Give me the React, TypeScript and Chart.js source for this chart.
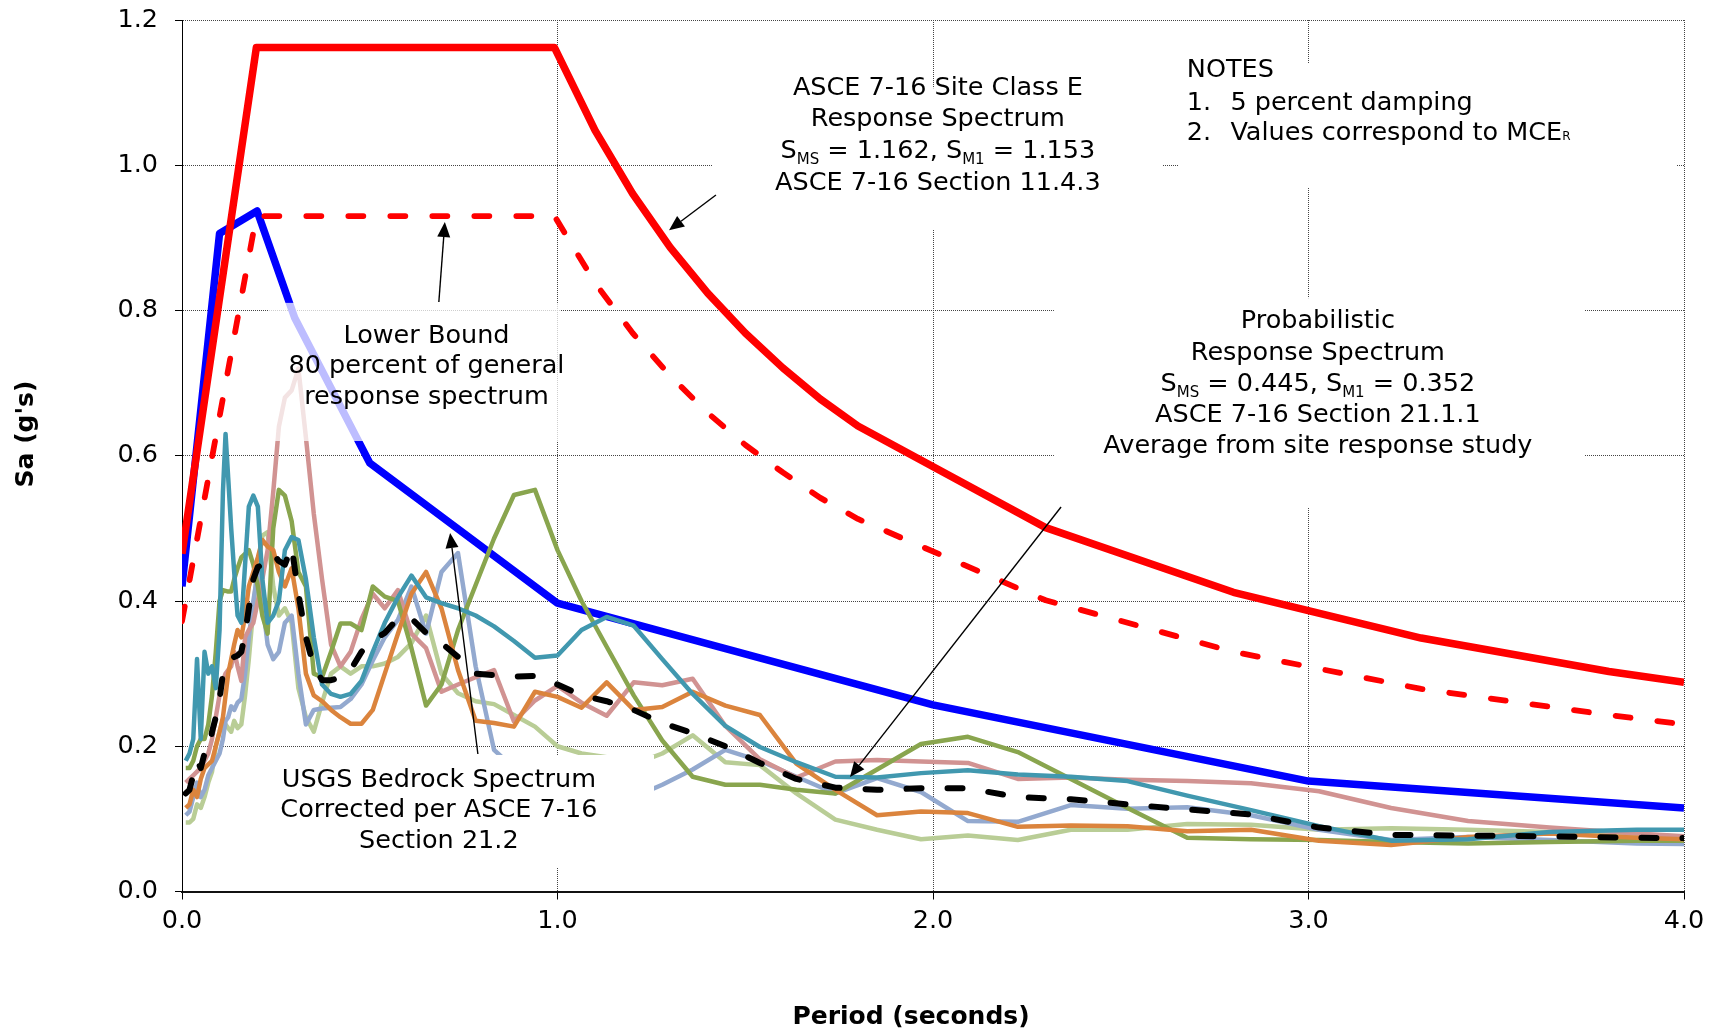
import { useEffect, useRef } from "react";
import { Chart, registerables } from "chart.js";

Chart.register(...registerables);

// ---- Site response ground motions (Sa in g) sampled at these periods (s) ----
const PERIODS = [
  0.01, 0.02, 0.03, 0.04, 0.05, 0.06, 0.07, 0.08, 0.09, 0.1,
  0.109, 0.116, 0.123, 0.131, 0.139, 0.148, 0.158, 0.168, 0.178, 0.19,
  0.202, 0.214, 0.228, 0.243, 0.258, 0.274, 0.292, 0.31, 0.33, 0.351,
  0.373, 0.397, 0.422, 0.449, 0.478, 0.508, 0.54, 0.575, 0.611, 0.65,
  0.691, 0.735, 0.782, 0.831, 0.884, 0.94,
  1.0, 1.064, 1.131, 1.203, 1.279, 1.36, 1.447, 1.539, 1.636, 1.74,
  1.851, 1.968, 2.093, 2.226, 2.367, 2.518, 2.677, 2.847, 3.028, 3.22,
  3.425, 3.642, 3.874, 4.12,
];

const MOTION_1 = [
  0.18, 0.19, 0.21, 0.32, 0.21, 0.33, 0.3, 0.31, 0.28, 0.36,
  0.55, 0.63, 0.57, 0.5, 0.44, 0.38, 0.37, 0.45, 0.53, 0.545,
  0.53, 0.43, 0.37, 0.38, 0.4, 0.47, 0.488, 0.484, 0.43, 0.35,
  0.285, 0.272, 0.268, 0.272, 0.29, 0.33, 0.37, 0.405, 0.435, 0.405,
  0.397, 0.39, 0.38, 0.365, 0.345, 0.322,
  0.325, 0.36, 0.378, 0.366, 0.32, 0.272, 0.228, 0.199, 0.178, 0.158,
  0.157, 0.163, 0.167, 0.161, 0.158, 0.152, 0.132, 0.112, 0.09, 0.07,
  0.072, 0.082, 0.085, 0.085,
];

const MOTION_2 = [
  0.115, 0.12, 0.14, 0.13, 0.155, 0.17, 0.175, 0.18, 0.2, 0.22,
  0.24, 0.27, 0.3, 0.32, 0.34, 0.36, 0.35, 0.38, 0.42, 0.44,
  0.46, 0.484, 0.475, 0.47, 0.44, 0.42, 0.445, 0.39, 0.3, 0.27,
  0.262, 0.25, 0.24, 0.231, 0.231, 0.25, 0.3, 0.355, 0.41, 0.44,
  0.39, 0.305, 0.235, 0.232, 0.227, 0.275,
  0.268, 0.253, 0.288, 0.25, 0.254, 0.275, 0.256, 0.243, 0.176, 0.14,
  0.105, 0.11, 0.108, 0.089, 0.091, 0.09, 0.083, 0.085, 0.07, 0.064,
  0.075, 0.08, 0.074, 0.07,
];

const MOTION_3 = [
  0.17, 0.17, 0.18, 0.2, 0.21, 0.21, 0.23, 0.27, 0.33, 0.4,
  0.415, 0.414, 0.413, 0.413, 0.43, 0.445, 0.46, 0.465, 0.47, 0.45,
  0.42, 0.38, 0.355, 0.5, 0.553, 0.545, 0.51, 0.44, 0.42, 0.3,
  0.295, 0.33, 0.369, 0.369, 0.36, 0.42, 0.406, 0.4, 0.335, 0.256,
  0.285, 0.36, 0.422, 0.486, 0.546, 0.553,
  0.47, 0.4, 0.337, 0.27, 0.208, 0.158, 0.147, 0.147, 0.14, 0.135,
  0.168, 0.203, 0.213, 0.192, 0.155, 0.115, 0.074, 0.072, 0.071, 0.068,
  0.066, 0.068, 0.07, 0.07,
];

const MOTION_4 = [
  0.15, 0.155, 0.16, 0.165, 0.17, 0.18, 0.19, 0.21, 0.24, 0.27,
  0.29, 0.3, 0.305, 0.31, 0.33, 0.31, 0.29, 0.35, 0.36, 0.37,
  0.4, 0.43, 0.47, 0.55, 0.64, 0.68, 0.69, 0.72, 0.625, 0.52,
  0.43, 0.34, 0.31, 0.33, 0.375, 0.41, 0.39, 0.415, 0.355, 0.335,
  0.275, 0.285, 0.295, 0.305, 0.234, 0.263,
  0.283, 0.26, 0.242, 0.288, 0.284, 0.293, 0.228, 0.182, 0.157, 0.179,
  0.181, 0.179, 0.177, 0.155, 0.157, 0.154, 0.152, 0.149, 0.138, 0.115,
  0.097, 0.088, 0.08, 0.072,
];

const MOTION_5 = [
  0.105, 0.11, 0.13, 0.15, 0.13, 0.14, 0.16, 0.17, 0.18, 0.19,
  0.21, 0.235, 0.24, 0.255, 0.25, 0.26, 0.265, 0.3, 0.35, 0.4,
  0.44, 0.4, 0.34, 0.32, 0.33, 0.37, 0.38, 0.3, 0.23, 0.25,
  0.252, 0.253, 0.254, 0.265, 0.285, 0.318, 0.35, 0.374, 0.42, 0.355,
  0.44, 0.466, 0.31, 0.195, 0.17, 0.16,
  0.15, 0.14, 0.135, 0.13, 0.147, 0.168, 0.195, 0.18, 0.158, 0.135,
  0.156, 0.137, 0.097, 0.096, 0.119, 0.114, 0.116, 0.105, 0.085, 0.071,
  0.075, 0.071, 0.066, 0.065,
];

const MOTION_6 = [
  0.095, 0.095, 0.1, 0.12, 0.115, 0.13, 0.15, 0.165, 0.2, 0.22,
  0.235, 0.23, 0.225, 0.22, 0.235, 0.225, 0.23, 0.27, 0.32, 0.39,
  0.45, 0.49, 0.495, 0.42, 0.38, 0.39, 0.37, 0.28, 0.24, 0.22,
  0.26, 0.3, 0.31, 0.3, 0.31, 0.31, 0.314, 0.323, 0.342, 0.38,
  0.3, 0.273, 0.262, 0.258, 0.243, 0.227,
  0.2, 0.19, 0.185, 0.175, 0.19, 0.215, 0.178, 0.174, 0.135, 0.099,
  0.085, 0.072, 0.077, 0.071, 0.085, 0.085, 0.093, 0.092, 0.085, 0.087,
  0.085, 0.082, 0.077, 0.075,
];

const AVERAGE = [
  0.135, 0.14, 0.16, 0.18, 0.17, 0.19, 0.19, 0.22, 0.24, 0.265,
  0.3, 0.31, 0.315, 0.32, 0.323, 0.325, 0.33, 0.355, 0.39, 0.43,
  0.447, 0.45, 0.455, 0.465, 0.455, 0.45, 0.475, 0.41, 0.35, 0.31,
  0.291, 0.291, 0.295, 0.305, 0.33, 0.346, 0.356, 0.376, 0.376, 0.356,
  0.342, 0.323, 0.3, 0.298, 0.296, 0.297,
  0.285, 0.27, 0.262, 0.25, 0.232, 0.218, 0.2, 0.177, 0.155, 0.143,
  0.14, 0.142, 0.142, 0.13, 0.127, 0.12, 0.113, 0.106, 0.088, 0.078,
  0.077, 0.076, 0.074, 0.073,
];

// ---- ASCE 7-16 Site Class E (MCE_R) and 80 percent lower bound ----
const CODE_PERIODS = [0, 0.198, 0.992, 1.1, 1.2, 1.3, 1.4, 1.5, 1.6, 1.7, 1.8, 2.3, 2.8, 3.3, 3.8, 4.0];
const CODE_SA = [0.465, 1.162, 1.162, 1.048, 0.961, 0.887, 0.824, 0.769, 0.721, 0.678, 0.641, 0.501, 0.412, 0.349, 0.303, 0.288];
const LOWER_BOUND_SA = [0.372, 0.93, 0.93, 0.838, 0.769, 0.71, 0.659, 0.615, 0.577, 0.542, 0.513, 0.401, 0.33, 0.279, 0.243, 0.23];

// ---- Probabilistic response spectrum ----
const PROB_PERIODS = [0, 0.1, 0.2, 0.3, 0.5, 1.0, 2.0, 3.0, 4.0];
const PROB_SA = [0.42, 0.906, 0.937, 0.79, 0.59, 0.397, 0.257, 0.152, 0.115];

const X_TICKS = [0, 1, 2, 3, 4];
const Y_TICKS = [0, 0.2, 0.4, 0.6, 0.8, 1.0, 1.2];

const MOTION_COLORS = ["#4198AF", "#DB843D", "#89A54E", "#D19392", "#93A9CF", "#B9CD96"];

const FONT_FAMILY = '"DejaVu Sans", Verdana, sans-serif';
const TEXT_SIZE = 25.5;

type Seg = { t: string; sub?: boolean; tiny?: boolean };
type Line = Seg[];
type Block = { x: number; baselines: number[]; align: "center" | "left"; lines: Line[] };

const S = (t: string): Seg => ({ t });
const SUB = (t: string): Seg => ({ t, sub: true });

// white panels behind the notes (period range, Sa range, opacity)
const PANELS = [
  { t0: 1.414, t1: 2.612, v0: 1.106, v1: 0.911, alpha: 1 },
  { t0: 2.655, t1: 3.981, v0: 1.14, v1: 0.97, alpha: 1 },
  { t0: 2.322, t1: 3.734, v0: 0.817, v1: 0.529, alpha: 1 },
  { t0: 0.229, t1: 1.007, v0: 0.8105, v1: 0.6203, alpha: 0.74 },
  { t0: 0.109, t1: 1.257, v0: 0.188, v1: 0.0324, alpha: 1 },
];

const BLOCKS: Block[] = [
  {
    x: 2.013, align: "center", baselines: [1.0967, 1.0534, 1.01, 0.9662],
    lines: [
      [S("ASCE 7-16 Site Class E")],
      [S("Response Spectrum")],
      [S("S"), SUB("MS"), S(" = 1.162, S"), SUB("M1"), S(" = 1.153")],
      [S("ASCE 7-16 Section 11.4.3")],
    ],
  },
  {
    x: 2.676, align: "left", baselines: [1.1219],
    lines: [[S("NOTES")]],
  },
  {
    x: 2.676, align: "left", baselines: [1.0761, 1.0348],
    lines: [[S("1.")], [S("2.")]],
  },
  {
    x: 2.792, align: "left", baselines: [1.0761, 1.0348],
    lines: [[S("5 percent damping")], [S("Values correspond to MCE"), { t: "R", tiny: true }]],
  },
  {
    x: 3.025, align: "center", baselines: [0.7753, 0.7323, 0.6894, 0.6464, 0.6035],
    lines: [
      [S("Probabilistic")],
      [S("Response Spectrum")],
      [S("S"), SUB("MS"), S(" = 0.445, S"), SUB("M1"), S(" = 0.352")],
      [S("ASCE 7-16 Section 21.1.1")],
      [S("Average from site response study")],
    ],
  },
  {
    x: 0.651, align: "center", baselines: [0.7548, 0.7133, 0.6713],
    lines: [[S("Lower Bound")], [S("80 percent of general")], [S("response spectrum")]],
  },
  {
    x: 0.684, align: "center", baselines: [0.1443, 0.103, 0.0595],
    lines: [[S("USGS Bedrock Spectrum")], [S("Corrected per ASCE 7-16")], [S("Section 21.2")]],
  },
];

// leader arrows: tail (period, Sa) -> head (period, Sa)
const ARROWS = [
  { from: [1.422, 0.959], to: [1.297, 0.9105] },
  { from: [0.684, 0.8118], to: [0.7, 0.9219] },
  { from: [0.788, 0.1893], to: [0.714, 0.4936] },
  { from: [2.341, 0.5294], to: [1.779, 0.1577] },
];

const segFont = (s: Seg) =>
  s.sub ? `15px ${FONT_FAMILY}` : s.tiny ? `12px ${FONT_FAMILY}` : `${TEXT_SIZE}px ${FONT_FAMILY}`;

function drawLine(ctx: CanvasRenderingContext2D, segs: Line, x: number, y: number, align: "center" | "left") {
  const widths = segs.map((s) => {
    ctx.font = segFont(s);
    return ctx.measureText(s.t).width;
  });
  const total = widths.reduce((a, b) => a + b, 0);
  let cx = align === "center" ? x - total / 2 : x;
  ctx.textAlign = "left";
  ctx.textBaseline = "alphabetic";
  segs.forEach((s, i) => {
    ctx.font = segFont(s);
    ctx.fillText(s.t, cx, y + (s.sub ? 6 : 0));
    cx += widths[i];
  });
}

const notesPlugin = {
  id: "notes",
  afterDatasetsDraw(chart: any) {
    const { ctx } = chart;
    const xs = chart.scales.x;
    const ys = chart.scales.y;
    const px = (t: number) => xs.getPixelForValue(t);
    const py = (v: number) => ys.getPixelForValue(v);
    ctx.save();

    for (const p of PANELS) {
      ctx.fillStyle = `rgba(255,255,255,${p.alpha})`;
      const x0 = px(p.t0);
      const y0 = py(p.v0);
      ctx.fillRect(x0, y0, px(p.t1) - x0, py(p.v1) - y0);
    }

    ctx.fillStyle = "#000";
    for (const b of BLOCKS) {
      b.lines.forEach((line, i) => drawLine(ctx, line, px(b.x), py(b.baselines[i]), b.align));
    }

    ctx.strokeStyle = "#000";
    ctx.fillStyle = "#000";
    ctx.lineWidth = 1.4;
    for (const a of ARROWS) {
      const x1 = px(a.from[0]);
      const y1 = py(a.from[1]);
      const x2 = px(a.to[0]);
      const y2 = py(a.to[1]);
      const ang = Math.atan2(y2 - y1, x2 - x1);
      const len = 15;
      const half = 6.5;
      const bx = x2 - len * Math.cos(ang);
      const by = y2 - len * Math.sin(ang);
      ctx.beginPath();
      ctx.moveTo(x1, y1);
      ctx.lineTo(bx, by);
      ctx.stroke();
      ctx.beginPath();
      ctx.moveTo(x2, y2);
      ctx.lineTo(bx + half * Math.sin(ang), by - half * Math.cos(ang));
      ctx.lineTo(bx - half * Math.sin(ang), by + half * Math.cos(ang));
      ctx.closePath();
      ctx.fill();
    }
    ctx.restore();
  },
  afterDraw(chart: any) {
    const { ctx } = chart;
    ctx.save();
    ctx.fillStyle = "#000";
    ctx.font = `bold 25px ${FONT_FAMILY}`;
    ctx.textAlign = "center";
    ctx.textBaseline = "alphabetic";
    ctx.fillText("Period (seconds)", 911, 1024);
    ctx.translate(33, 434);
    ctx.rotate(-Math.PI / 2);
    ctx.fillText("Sa (g's)", 0, 0);
    ctx.restore();
  },
};

const toPoints = (xs: number[], ys: number[]) => xs.map((x, i) => ({ x, y: ys[i] }));

export default function App() {
  const canvasRef = useRef<HTMLCanvasElement | null>(null);

  useEffect(() => {
    const canvas = canvasRef.current;
    if (!canvas) return;

    const motions = [MOTION_1, MOTION_2, MOTION_3, MOTION_4, MOTION_5, MOTION_6];

    const datasets: any[] = [
      {
        label: "Average from site response study",
        data: toPoints(PERIODS, AVERAGE),
        borderColor: "#000",
        borderWidth: 6,
        borderDash: [15, 26],
        borderCapStyle: "round",
      },
      ...motions.map((vals, i) => ({
        label: `Motion ${i + 1}`,
        data: toPoints(PERIODS, vals),
        borderColor: MOTION_COLORS[i],
        borderWidth: 4.5,
      })),
      {
        label: "ASCE 7-16 Site Class E",
        data: toPoints(CODE_PERIODS, CODE_SA),
        borderColor: "#FF0000",
        borderWidth: 7.5,
      },
      {
        label: "Lower Bound",
        data: toPoints(CODE_PERIODS, LOWER_BOUND_SA),
        borderColor: "#FF0000",
        borderWidth: 5.8,
        borderDash: [15, 27],
        borderCapStyle: "round",
      },
      {
        label: "Probabilistic",
        data: toPoints(PROB_PERIODS, PROB_SA),
        borderColor: "#0000FF",
        borderWidth: 7.5,
      },
    ].map((d) => ({
      pointRadius: 0,
      pointHoverRadius: 0,
      fill: false,
      tension: 0,
      borderJoinStyle: "round",
      ...d,
    }));

    const chart = new Chart(canvas, {
      type: "line",
      data: { datasets },
      options: {
        animation: false,
        responsive: false,
        devicePixelRatio: 1,
        events: [],
        layout: { padding: { left: 0, top: 20, right: 31, bottom: 0 } },
        plugins: { legend: { display: false }, tooltip: { enabled: false }, title: { display: false } },
        scales: {
          x: {
            type: "linear",
            min: 0,
            max: 4,
            afterBuildTicks: (s: any) => {
              s.ticks = X_TICKS.map((v) => ({ value: v }));
            },
            afterFit: (s: any) => {
              s.height = 143.5;
              s.paddingLeft = 0;
              s.paddingRight = 0;
            },
            ticks: {
              autoSkip: false,
              maxRotation: 0,
              padding: 7,
              color: "#000",
              font: { family: FONT_FAMILY, size: TEXT_SIZE },
              callback: (v: any) => Number(v).toFixed(1),
            },
            grid: {
              color: "#444",
              lineWidth: 1,
              tickLength: 8,
              tickColor: "#000",
              tickWidth: 1,
              tickBorderDash: [],
            },
            border: { display: true, color: "#111", width: 2, dash: [1, 1] },
          },
          y: {
            type: "linear",
            min: 0,
            max: 1.2,
            afterBuildTicks: (s: any) => {
              s.ticks = Y_TICKS.map((v) => ({ value: v }));
            },
            afterFit: (s: any) => {
              s.width = 182;
              s.paddingTop = 0;
              s.paddingBottom = 0;
            },
            ticks: {
              padding: 17,
              color: "#000",
              font: { family: FONT_FAMILY, size: TEXT_SIZE },
              callback: (v: any) => Number(v).toFixed(1),
            },
            grid: {
              color: "#444",
              lineWidth: 1,
              tickLength: 7,
              tickColor: "#000",
              tickWidth: 1,
              tickBorderDash: [],
            },
            border: { display: true, color: "#000", width: 1, dash: [1, 1] },
          },
        },
      },
      plugins: [notesPlugin],
    } as any);

    return () => chart.destroy();
  }, []);

  return (
    <canvas
      ref={canvasRef}
      width={1715}
      height={1035}
      style={{ position: "fixed", left: 0, top: 0, width: 1715, height: 1035, background: "#fff" }}
    />
  );
}
